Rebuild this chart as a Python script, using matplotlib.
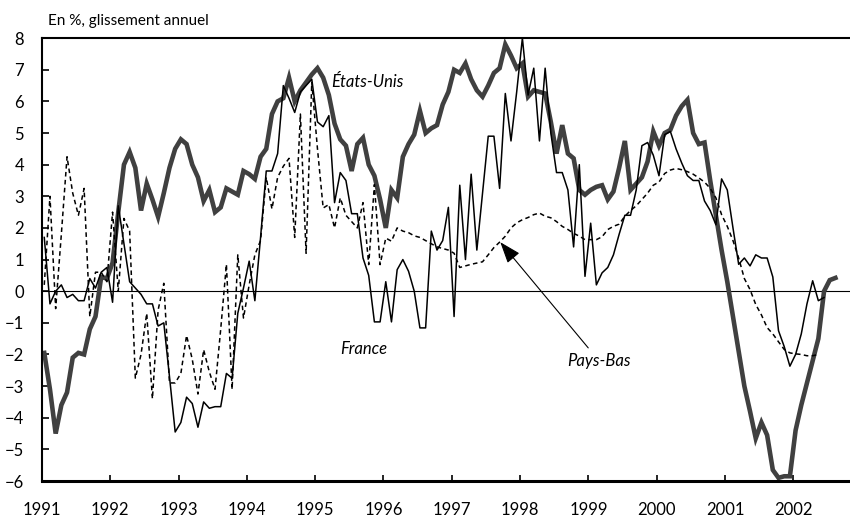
import numpy as np
from matplotlib import pyplot as plt

# Glissement annuel en %, mensuel a partir de janvier 1991
etats_unis = [
    -1.95, -3.1, -4.5, -3.6, -3.2, -2.1, -1.95, -2.0, -1.2, -0.8, 0.45, 0.4,
    0.9, 2.5, 4.0, 4.4, 3.9, 2.55, 3.4, 2.9, 2.35, 3.1, 3.9, 4.5,
    4.8, 4.65, 4.0, 3.6, 2.85, 3.2, 2.5, 2.65, 3.25, 3.15, 3.05, 3.8,
    3.7, 3.55, 4.25, 4.5, 5.6, 6.0, 6.1, 6.75, 6.0, 6.35, 6.6, 6.85,
    7.05, 6.75, 6.2, 5.3, 4.8, 4.6, 3.8, 4.65, 4.85, 4.0, 3.65, 2.9,
    2.0, 3.2, 2.95, 4.25, 4.65, 4.95, 5.7, 5.0, 5.15, 5.25, 5.9, 6.3,
    7.0, 6.9, 7.2, 6.7, 6.35, 6.15, 6.5, 6.9, 7.05, 7.8, 7.45, 7.05,
    7.2, 6.15, 6.35, 6.3, 6.25, 5.35, 4.35, 5.25, 4.35, 4.2, 3.2, 3.05,
    3.2, 3.3, 3.35, 2.9, 3.15, 3.9, 4.75, 3.2, 3.4, 3.6, 4.1, 5.05,
    4.6, 5.0, 5.1, 5.55, 5.85, 6.05, 5.0, 4.65, 4.7, 3.5, 2.4, 1.3,
    0.3, -0.8, -1.9, -3.0, -3.8, -4.65, -4.15, -4.55, -5.65, -5.9, -5.85, -5.85,
    -4.4, -3.6, -2.9, -2.2, -1.5, 0.0, 0.35, 0.42,
]

france = [
    1.7, -0.4, 0.0, 0.2, -0.2, -0.1, -0.3, -0.3, 0.4, 0.1, 0.6, 0.75,
    -0.35, 2.7, 1.5, 0.3, 0.1, -0.1, -0.4, -0.4, -1.1, -1.0, -2.7, -4.45,
    -4.15, -3.35, -3.55, -4.3, -3.5, -3.7, -3.65, -3.65, -2.6, -2.75, -0.7, 0.1,
    0.95, -0.3, 1.7, 3.8, 3.8, 4.35, 6.5, 6.1, 5.65, 6.3, 6.5, 6.7,
    5.35, 5.2, 5.55, 2.8, 3.75, 3.5, 2.45, 2.45, 1.05, 0.5, -0.97, -0.97,
    0.3, -0.97, 0.68, 1.0, 0.63, 0.0, -1.16, -1.16, 1.9, 1.3, 1.6, 2.65,
    -0.8, 3.35, 1.0, 3.7, 1.3, 3.1, 4.9, 4.9, 3.25, 6.25, 4.75, 6.3,
    8.0, 6.2, 7.05, 4.75, 7.05, 5.0, 3.75, 3.75, 3.2, 1.4, 4.0, 0.47,
    2.15, 0.2, 0.58, 0.75, 1.15, 1.8, 2.4, 2.4, 3.2, 4.6, 4.7, 4.3,
    3.65, 4.95, 5.05, 4.5, 4.05, 3.65, 3.5, 3.5, 2.85, 2.55, 2.1, 3.55,
    3.2, 2.0, 0.85, 1.05, 0.8, 1.15, 1.05, 1.05, 0.45, -1.25, -1.75, -2.37,
    -2.0, -1.35, -0.4, 0.33, -0.3, -0.2,
]

pays_bas = [
    0.2, 3.0, -0.55, 1.8, 4.25, 3.1, 2.4, 3.25, -0.8, 0.6, 0.6, 0.3,
    2.5, 0.0, 2.3, 1.9, -2.75, -2.0, -0.7, -3.4, -0.6, 0.25, -2.9, -2.9,
    -2.6, -1.4, -2.15, -3.25, -1.85, -2.55, -3.1, -1.2, 0.85, -3.1, 1.15, -0.85,
    0.2, 1.15, 1.6, 3.6, 2.6, 3.6, 3.95, 4.2, 1.7, 5.6, 1.2, 6.6,
    4.5, 2.63, 2.74, 2.0, 2.95, 2.4, 2.2, 2.0, 2.8, 0.84, 3.37, 0.84,
    1.68, 1.58, 2.0, 1.9, 1.85, 1.75, 1.7, 1.6, 1.5, 1.4, 1.35, 1.3,
    1.2, 0.75, 0.8, 0.85, 0.89, 0.93, 1.15, 1.38, 1.55, 1.74, 2.0, 2.16,
    2.26, 2.33, 2.42, 2.47, 2.37, 2.32, 2.2, 2.05, 1.95, 1.83, 1.74, 1.63,
    1.63, 1.63, 1.72, 1.95, 2.05, 2.12, 2.37, 2.55, 2.7, 2.9, 3.1, 3.35,
    3.45, 3.72, 3.83, 3.88, 3.84, 3.78, 3.7, 3.58, 3.45, 3.25, 2.95, 2.42,
    2.05, 1.6, 1.05, 0.4, 0.05, -0.42, -0.75, -1.15, -1.35, -1.6, -1.84, -1.95,
    -1.98, -2.0, -2.04, -2.04, -2.0,
]

annees = list(range(1991, 2003))
graduations_y = list(range(-6, 9))


def mois(valeurs):
    # position de chaque observation mensuelle sur l'axe des annees
    return 1991 + (np.arange(len(valeurs)) + 0.4) / 12


def main():
    plt.rcParams['font.family'] = ['Lato', 'DejaVu Sans']

    fig = plt.figure(figsize=(8.5, 5.18), dpi=100)
    ax = fig.add_axes([0.0494, 0.0714, 0.9506, 0.855])

    ax.axhline(0, color='black', lw=0.8, zorder=1)

    ax.plot(mois(etats_unis), etats_unis, color='#404040', lw=3.3,
            solid_joinstyle='miter', zorder=2)
    ax.plot(mois(pays_bas), pays_bas, color='black', lw=1.1,
            dashes=(3, 2.2), zorder=3)
    ax.plot(mois(france), france, color='black', lw=1.1, zorder=4)

    ax.set_xlim(1991, 2002.83)
    ax.set_ylim(-6, 8)
    ax.set_xticks(annees)
    ax.set_xticklabels([str(a) for a in annees])
    ax.set_yticks(graduations_y)

    ax.tick_params(axis='both', direction='in', labelsize=12, color='black')
    ax.tick_params(axis='x', length=4, width=1.2, pad=15)
    ax.tick_params(axis='y', length=5, width=1.2, pad=13)

    ax.spines['right'].set_visible(False)
    ax.spines['top'].set_linewidth(1.5)
    ax.spines['left'].set_linewidth(1.5)
    ax.spines['bottom'].set_linewidth(2.2)

    fig.text(48 / 850, 1 - 21 / 518, 'En %, glissement annuel',
             fontsize=11, va='center', ha='left')

    ax.text(1995.76, 6.62, 'États-Unis', fontsize=12, style='italic',
            ha='center', va='center')
    ax.text(1995.71, -1.84, 'France', fontsize=12, style='italic',
            ha='center', va='center')
    ax.annotate('Pays-Bas', xy=(1997.71, 1.55), xytext=(1998.69, -2.2),
                fontsize=12, style='italic', ha='left', va='center',
                arrowprops=dict(arrowstyle='-|>,head_length=1.1,head_width=0.4',
                                color='black', lw=0.8, shrinkA=2, shrinkB=0))

    plt.savefig('out.png', dpi=100)


main()
